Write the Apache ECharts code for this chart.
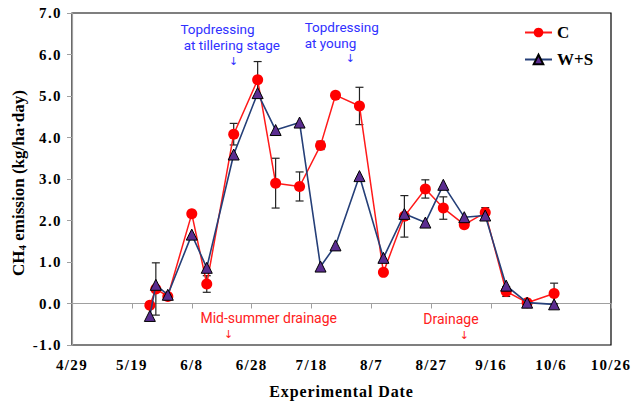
<!DOCTYPE html>
<html>
<head>
<meta charset="utf-8">
<script src="https://cdn.jsdelivr.net/npm/echarts@6/dist/echarts.min.js"></script>
<style>
html,body{margin:0;padding:0;background:#fff;}
#chart{width:631px;height:401px;}
#chart svg text[style*="lsx"]{letter-spacing:1.3px;}
#chart svg text[style*="lsy"]{letter-spacing:1.4px;}
#chart svg text[style*="lsn"]{letter-spacing:0.9px;}
</style>
</head>
<body>
<div id="chart"></div>
<script>
// ---- data ----
const startDate = '4/29';
const tickLabels = ['4/29','5/19','6/8','6/28','7/18','8/7','8/27','9/16','10/6','10/26'];
const sampleDates = ['5/25','5/27','5/31','6/8','6/13','6/22','6/30','7/6','7/14','7/21','7/26','8/3','8/11','8/18','8/25','8/31','9/7','9/14','9/21','9/28','10/7'];
const cValues  = [-0.04, 0.35, 0.17, 2.16, 0.47, 4.08, 5.39, 2.90, 2.82, 3.81, 5.02, 4.76, 0.75, 2.10, 2.76, 2.30, 1.90, 2.19, 0.29, 0.02, 0.24];
const cErrors  = [0, 0.63, 0, 0.05, 0.2, 0.26, 0.44, 0.6, 0.35, 0.1, 0.05, 0.45, 0.05, 0.5, 0.22, 0.27, 0.05, 0.12, 0.12, 0, 0.25];
const wsValues = [-0.30, 0.45, 0.21, 1.66, 0.86, 3.59, 5.07, 4.18, 4.36, 0.89, 1.40, 3.07, 1.10, 2.16, 1.95, 2.86, 2.08, 2.12, 0.43, 0.02, -0.02];
const seriesNames = ['C', 'W+S'];

// annotation texts with anchor (day offset, value)
const notes = [
  {text:'Topdressing\n at tillering stage', day:36.2, v:6.415, kind:'blue', lh:16, align:'left'},
  {text:'\u2193', day:54, v:5.82, kind:'blueArrow', lh:10, align:'center'},
  {text:'Topdressing\nat young', day:77.7, v:6.475, kind:'blue', lh:16, align:'left'},
  {text:'\u2193', day:93, v:5.91, kind:'blueArrow', lh:10, align:'center'},
  {text:'Mid-summer drainage', day:42.9, v:-0.34, kind:'red', lh:15, align:'left'},
  {text:'\u2193', day:52.3, v:-0.74, kind:'redArrow', lh:10, align:'center'},
  {text:'Drainage', day:117.3, v:-0.38, kind:'red', lh:15, align:'left'},
  {text:'\u2193', day:131, v:-0.76, kind:'redArrow', lh:10, align:'center'}
];

// ---- helpers ----
function dayOffset(md) {
  const [m, d] = md.split('/').map(Number);
  const [m0, d0] = startDate.split('/').map(Number);
  return Math.round((Date.UTC(2001, m - 1, d) - Date.UTC(2001, m0 - 1, d0)) / 86400000);
}
const days = sampleDates.map(dayOffset);
const cData = days.map((d, i) => [d, cValues[i]]);
const wsData = days.map((d, i) => [d, wsValues[i]]);
const errData = days.map((d, i) => [d, cValues[i], cErrors[i]]);

const serif = '"Liberation Serif", "Times New Roman", serif';
const serifX = '"Liberation Serif", lsx, serif';
const serifY = '"Liberation Serif", lsy, serif';
const serifN = '"Liberation Serif", lsn, serif';
const chart = echarts.init(document.getElementById('chart'), null, {renderer: 'svg'});

chart.setOption({
  animation: false,
  backgroundColor: '#fff',
  grid: {
    left: 72, right: 20, top: 13, bottom: 56, outerBoundsMode: 'none', containLabel: false,
    show: true, borderColor: '#000', borderWidth: 1.2, backgroundColor: 'transparent'
  },
  legend: {
    orient: 'vertical', left: 519, top: 19, itemWidth: 27, itemHeight: 12, itemGap: 10,
    data: seriesNames,
    textStyle: {fontFamily: serif, fontWeight: 'bold', fontSize: 17, color: '#000'}
  },
  xAxis: {
    type: 'value', min: 0, max: 180, interval: 20,
    name: 'Experimental Date', nameLocation: 'middle', nameGap: 38,
    nameTextStyle: {fontFamily: serifN, fontWeight: 'bold', fontSize: 16, color: '#000'},
    axisLine: {lineStyle: {color: '#A0A0A0', width: 1.2}},
    axisTick: {show: true, length: 5, lineStyle: {color: '#A0A0A0'}},
    axisLabel: {
      fontFamily: serifX, fontWeight: 'bold', fontSize: 15, color: '#000', margin: 12,
      formatter: v => tickLabels[Math.round(v / 20)] || ''
    },
    splitLine: {show: false}
  },
  yAxis: {
    type: 'value', min: -1, max: 7, interval: 1,
    axisLine: {show: true, lineStyle: {color: '#A0A0A0', width: 1.2}},
    axisTick: {show: true, length: 5, lineStyle: {color: '#A0A0A0'}},
    axisLabel: {
      fontFamily: serifY, fontWeight: 'bold', fontSize: 15, color: '#000', margin: 10,
      formatter: v => v.toFixed(1)
    },
    splitLine: {show: false}
  },
  series: [
    {
      type: 'custom', name: 'err', z: 1, silent: true,
      data: errData,
      renderItem: function (params, api) {
        const x = api.value(0), y = api.value(1), e = api.value(2);
        if (!e) return null;
        const top = api.coord([x, y + e]);
        const bot = api.coord([x, y - e]);
        const w = 4;
        const st = {stroke: '#222', lineWidth: 1.2};
        return {
          type: 'group',
          children: [
            {type: 'line', shape: {x1: top[0], y1: top[1], x2: bot[0], y2: bot[1]}, style: st},
            {type: 'line', shape: {x1: top[0] - w, y1: top[1], x2: top[0] + w, y2: top[1]}, style: st},
            {type: 'line', shape: {x1: bot[0] - w, y1: bot[1], x2: bot[0] + w, y2: bot[1]}, style: st}
          ]
        };
      }
    },
    {
      name: seriesNames[0], type: 'line', data: cData, z: 2,
      symbol: 'circle', symbolSize: 11,
      lineStyle: {color: '#FF1A1A', width: 1.5},
      itemStyle: {color: '#FF0000', borderColor: '#FF0000', borderWidth: 0}
    },
    {
      name: seriesNames[1], type: 'line', data: wsData, z: 3,
      symbol: 'triangle', symbolSize: 11,
      lineStyle: {color: '#253F78', width: 1.6},
      itemStyle: {color: '#5B2D90', borderColor: '#000', borderWidth: 1}
    }
  ]
});

const styles = {
  blue: {fill: '#3030FF', font: '13.5px Roboto, "Noto Sans", sans-serif'},
  red: {fill: '#FF2020', font: '14px Roboto, "Noto Sans", sans-serif'},
  blueArrow: {fill: '#3030FF', font: '11px "DejaVu Sans", sans-serif'},
  redArrow: {fill: '#FF2020', font: '11px "DejaVu Sans", sans-serif'}
};
const graphics = notes.map(n => {
  const p = chart.convertToPixel({gridIndex: 0}, [n.day, n.v]);
  return {
    type: 'text', x: p[0], y: p[1], z: 10,
    style: Object.assign({text: n.text, align: n.align, verticalAlign: 'middle', lineHeight: n.lh}, styles[n.kind])
  };
});
graphics.push({
  type: 'text', x: 18, y: 183, rotation: Math.PI / 2, z: 10,
  style: {
    text: '{a|CH}{s|4}{a| emission (kg/ha\u00B7day)}',
    align: 'center', verticalAlign: 'middle',
    rich: {
      a: {fontFamily: serif, fontWeight: 'bold', fontSize: 17, fill: '#000'},
      s: {fontFamily: serif, fontWeight: 'bold', fontSize: 11, fill: '#000', padding: [8, 0, 0, 0]}
    }
  }
});
chart.setOption({graphic: graphics});
</script>
</body>
</html>
